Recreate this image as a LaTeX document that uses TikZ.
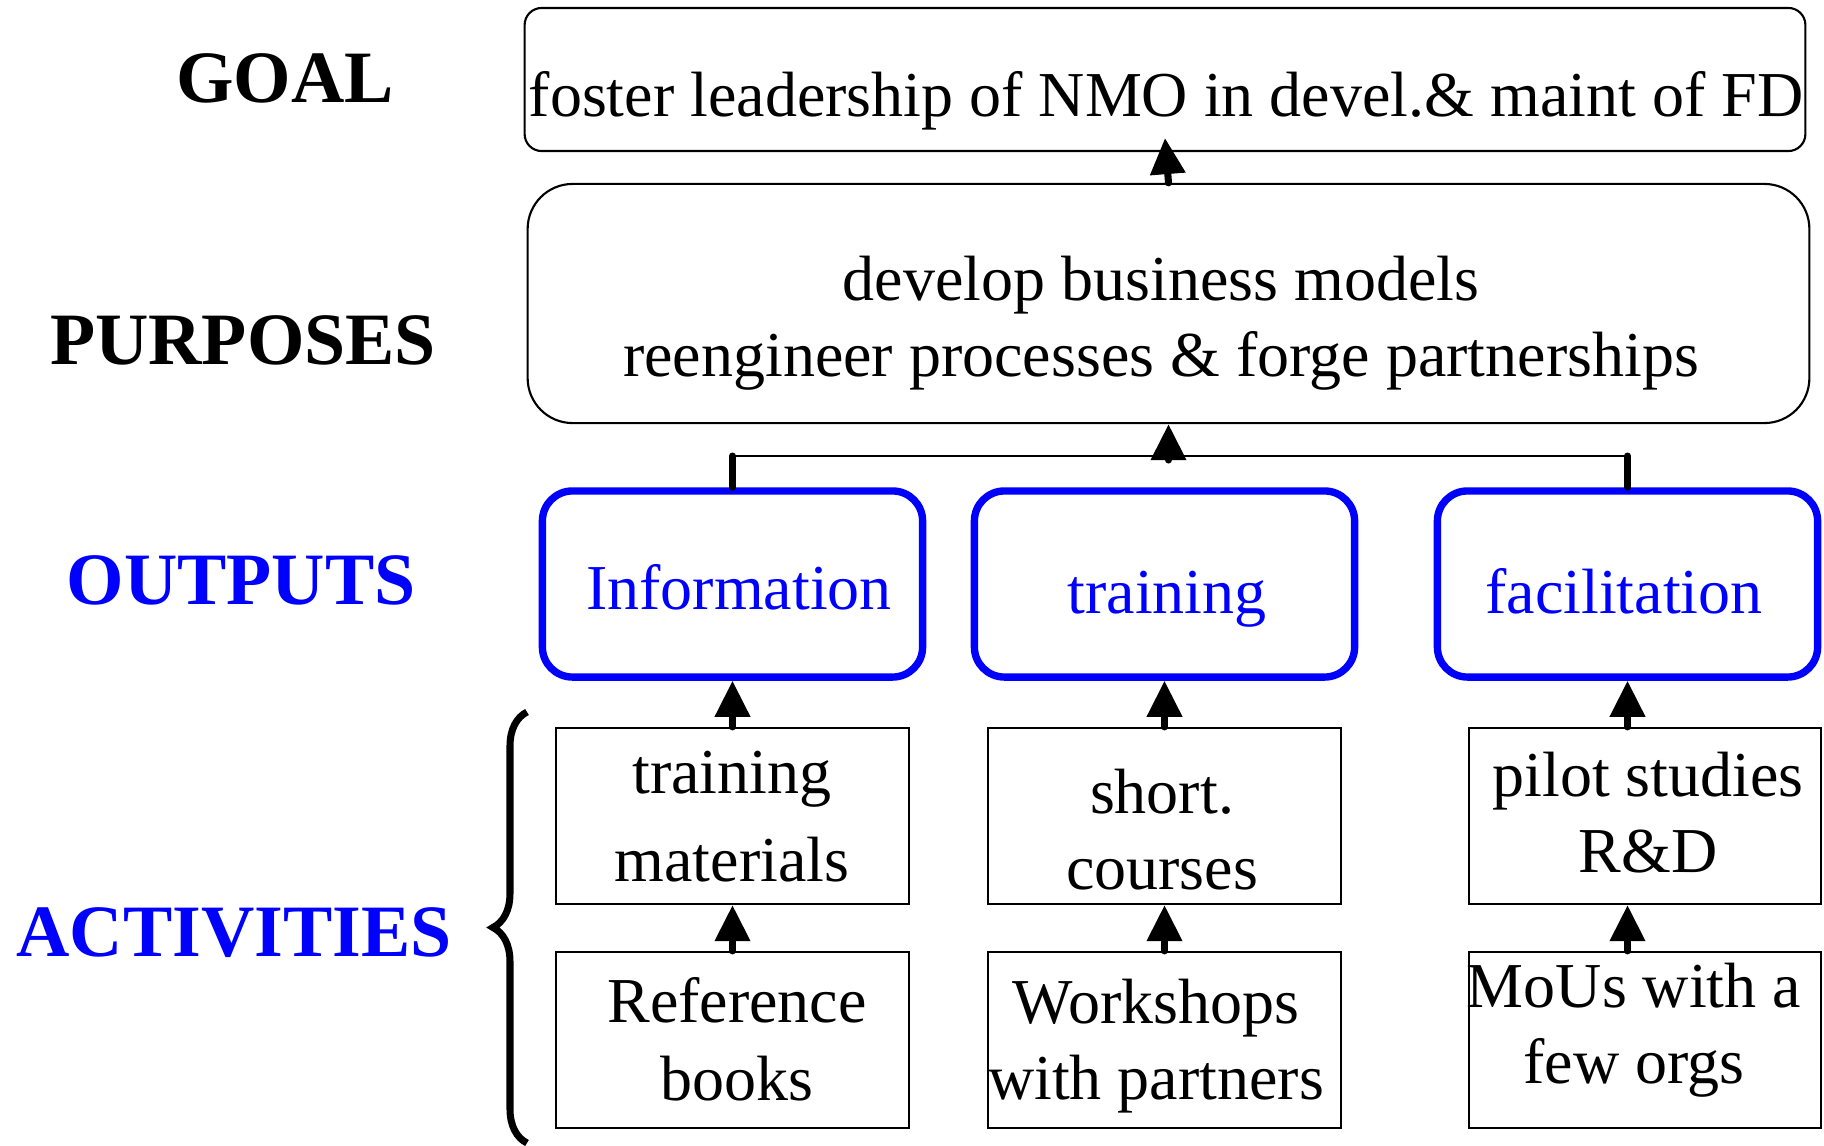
\documentclass[tikz,border=0pt]{standalone}
\usepackage{fontspec}
\setmainfont{Liberation Serif}
\usetikzlibrary{arrows.meta,decorations.pathreplacing}
\begin{document}
\begin{tikzpicture}[x=0.01cm,y=-0.01cm,
    goalbox/.style={draw,rectangle,line width=0.6pt,inner sep=0pt},
    outbox/.style={draw=blue,rectangle,rounded corners=0.3cm,line width=2.1pt,
      minimum width=3.8cm,minimum height=1.86cm,inner sep=0pt},
    actbox/.style={draw,rectangle,line width=0.6pt,minimum width=3.52cm,
      minimum height=1.76cm,inner sep=0pt},
    txt/.style={anchor=base,inner sep=0pt,align=center,
      font=\fontsize{18.2}{21.6}\selectfont},
    lbl/.style={anchor=base,inner sep=0pt,font=\fontsize{21}{25}\selectfont\bfseries},
    arr/.style={-{Triangle[width=0.34cm,length=0.36cm]},line width=2pt,line cap=round},
    link/.style={line width=2pt,line cap=round}]
    \useasboundingbox (0,0) rectangle (1824,1145);

    % levels on the left
    \node[lbl] (lgoal) at (285,102) {GOAL};
    \node[lbl] (lpurp) at (243,364) {PURPOSES};
    \node[lbl,blue] (lout) at (241,604) {OUTPUTS};
    \node[lbl,blue] (lact) at (234,956) {ACTIVITIES};

    \node[goalbox,rounded corners=0.17cm,minimum width=12.8cm,minimum height=1.43cm]
      (goal) at (1165,79.5) {};
    \node[txt] (goaltxt) at (1166,116) {foster leadership of NMO in devel.\& maint of FD};
    \node[goalbox,rounded corners=0.45cm,minimum width=12.81cm,minimum height=2.39cm]
      (purp) at (1168.5,303.5) {};
    \node[txt] (purptxt) at (1161,376) {develop business models\\
      reengineer processes \& forge partnerships};

    \node[outbox] (info) at (732.5,584) {};
    \node[outbox] (train) at (1164.5,584) {};
    \node[outbox] (facil) at (1627.5,584) {};
    \node[txt,blue] (infotxt) at (739,609) {Information};
    \node[txt,blue] (traintxt) at (1167,613) {training};
    \node[txt,blue] (faciltxt) at (1624,613) {facilitation};

    \node[actbox] (trmat) at (732.5,816) {};
    \node[actbox] (refbk) at (732.5,1040) {};
    \node[actbox] (shortc) at (1164.5,816) {};
    \node[actbox] (wkshop) at (1164.5,1040) {};
    \node[actbox] (pilot) at (1645,816) {};
    \node[actbox] (mous) at (1645,1040) {};
    \node[txt,font=\fontsize{18.2}{25}\selectfont] (trmattxt) at (732,881) {training\\materials};
    \node[txt,font=\fontsize{18.2}{22}\selectfont] (refbktxt) at (737,1100) {Reference\\books};
    \node[txt] (shortctxt) at (1162,889) {short.\\courses};
    \node[txt] (wkshoptxt) at (1156,1099) {Workshops\\with partners};
    \node[txt] (pilottxt) at (1648,872) {pilot studies\\R\&D};
    \node[txt] (moustxt) at (1634,1083) {MoUs with a\\few orgs};

    \coordinate (hub) at (purp.south |- 0,456);
    \coordinate (brtop) at (527,712);
    \coordinate (brbot) at (527,1143);

    \draw[arr] (purp.north) -- ([yshift=0.14cm]goal.south);
    \draw[line width=0.8pt] (info.north |- hub) -- (facil.north |- hub);
    \draw[link] (info.north) -- (info.north |- hub) (facil.north) -- (facil.north |- hub);
    \draw[arr] ([yshift=-0.04cm]hub) -- (purp.south);
    \draw (trmat) edge[arr] (info) (shortc) edge[arr] (train)
          (refbk) edge[arr] (trmat) (wkshop) edge[arr] (shortc);
    \draw[arr] (facil.south |- pilot.north) -- (facil.south);
    \draw[arr] (facil.south |- mous.north) -- (facil.south |- pilot.south);
    \draw[line width=2pt,decorate,decoration={brace,amplitude=0.34cm}] (brbot) -- (brtop);
  \end{tikzpicture}
\end{document}
